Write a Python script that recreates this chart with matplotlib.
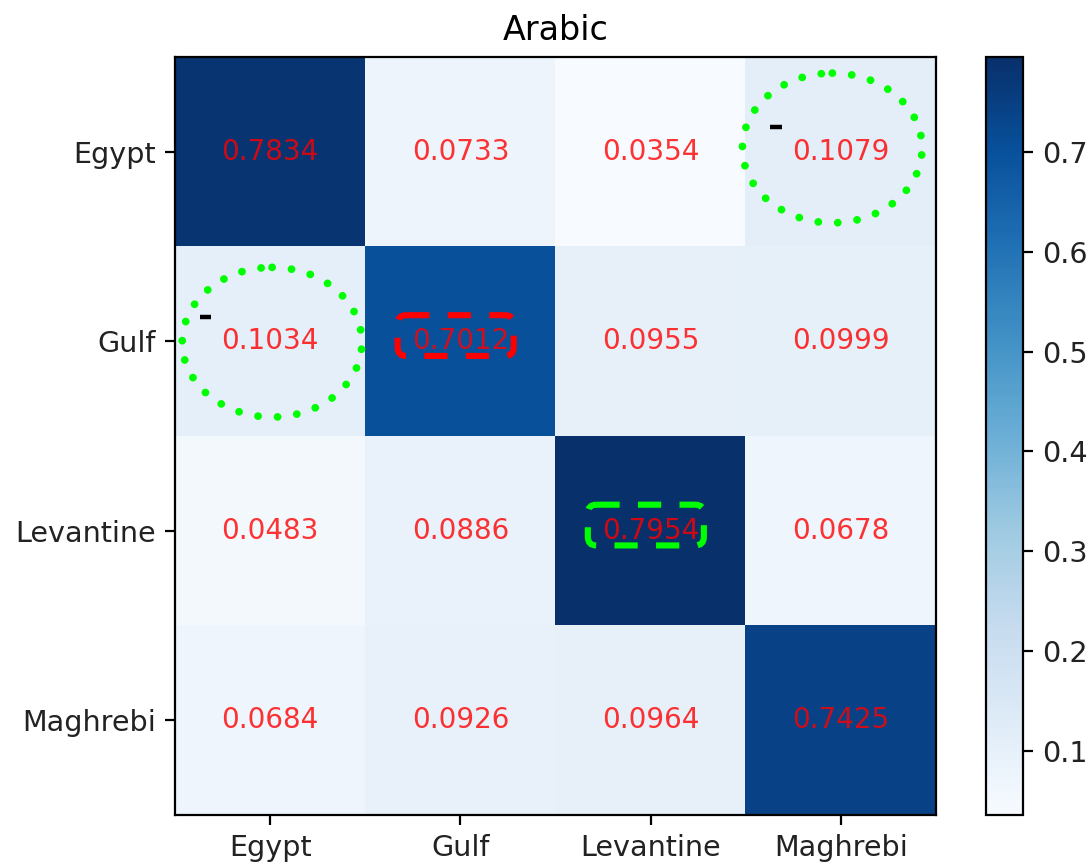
import numpy as np
import matplotlib
matplotlib.use("Agg")
import matplotlib.pyplot as plt
from matplotlib.patches import Ellipse, FancyBboxPatch

# Confusion matrix for Arabic dialect identification (rows: true, cols: predicted)
labels = ["Egypt", "Gulf", "Levantine", "Maghrebi"]
row_egypt = [0.7834, 0.0733, 0.0354, 0.1079]
row_gulf = [0.1034, 0.7012, 0.0955, 0.0999]
row_levantine = [0.0483, 0.0886, 0.7954, 0.0678]
row_maghrebi = [0.0684, 0.0926, 0.0964, 0.7425]
title = "Arabic"

# Highlighted cells: (row, col) plus a small nudge (dx, dy) for the ring
circled_cells = [((0, 3), (-0.045, -0.02)), ((1, 0), (0.01, 0.005))]
boxed_cells = [((1, 1), "red"), ((2, 2), "#00ff00")]

matrix = np.array([row_egypt, row_gulf, row_levantine, row_maghrebi])

fig = plt.figure(figsize=(5.46, 4.325), dpi=200)
ax = fig.add_axes([0.1603, 0.0578, 0.6968, 0.8763])
cax = fig.add_axes([0.9029, 0.0578, 0.0339, 0.8763])

im = ax.imshow(matrix, cmap="Blues", interpolation="nearest", aspect="auto",
               vmin=matrix.min(), vmax=matrix.max())
fig.colorbar(im, cax=cax)

ax.set_title(title, fontsize=12, pad=6)
ax.set_xticks(np.arange(len(labels)))
ax.set_yticks(np.arange(len(labels)))
ax.set_xticklabels(labels, fontsize=10.3, color="#222222")
ax.set_yticklabels(labels, fontsize=10.3, color="#222222")
cax.tick_params(labelsize=10.3, labelcolor="#222222")

for i in range(matrix.shape[0]):
    for j in range(matrix.shape[1]):
        ax.text(j, i, f"{matrix[i, j]:.4f}", ha="center", va="center",
                color="red", alpha=0.8, fontsize=10, zorder=3)

# Dotted green rings with a small black tick mark near each
for (r, c), (dx, dy) in circled_cells:
    ell = Ellipse((c + dx, r + dy), width=0.945, height=0.79,
                  fill=False, edgecolor="#00ff00", linewidth=2.8,
                  linestyle=(0, (0.01, 2.5)), zorder=4, clip_on=False)
    ell.set_capstyle("round")
    ax.add_patch(ell)
    ax.plot([c - 0.37, c - 0.31], [r - 0.13, r - 0.13], color="black",
            linewidth=1.6, solid_capstyle="butt", zorder=4, clip_on=False)

# Dashed rounded boxes around selected diagonal values
for (r, c), col in boxed_cells:
    w, h = 0.61, 0.215
    box = FancyBboxPatch((c - 0.025 - w / 2, r - 0.03 - h / 2), w, h,
                         boxstyle="round,pad=0,rounding_size=0.045",
                         fill=False, edgecolor=col, linewidth=2.2,
                         linestyle=(0, (3.8, 3.0)), zorder=4,
                         mutation_aspect=1)
    ax.add_patch(box)

ax.set_xlim(-0.5, 3.5)
ax.set_ylim(3.5, -0.5)

fig.savefig("out.png", dpi=200)
